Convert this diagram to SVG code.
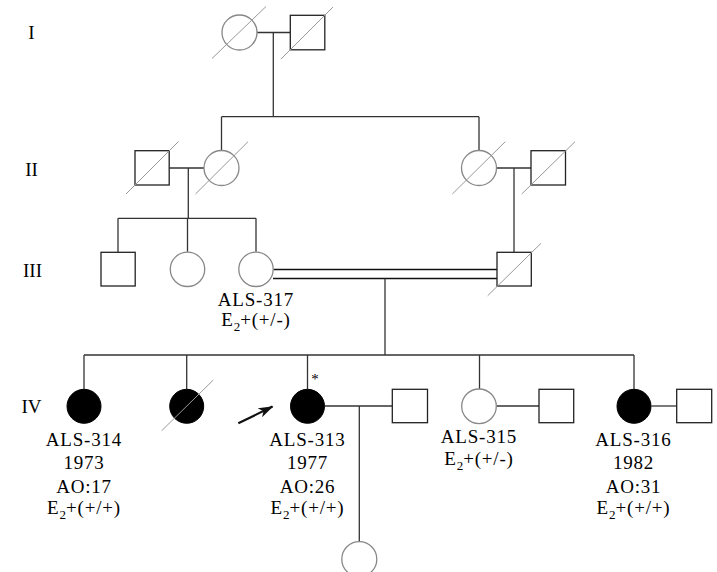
<svg xmlns="http://www.w3.org/2000/svg" width="717" height="572" viewBox="0 0 717 572">
<style>
.ln{stroke:#333;stroke-width:1.3;fill:none}
.dbl{stroke:#111;stroke-width:1.3;fill:none}
.sq{fill:#fff;stroke:#222;stroke-width:1.3}
.ci{fill:#fff;stroke:#888;stroke-width:1.3}
.aff{fill:#000;stroke:#000;stroke-width:1}
.dec{stroke:#999;stroke-width:1;fill:none}
text{font-family:"Liberation Serif","Times New Roman",serif;font-size:19px;fill:#000;text-anchor:middle;letter-spacing:0.8px}
.gen{letter-spacing:0}
.sub{font-size:13px;letter-spacing:0}
.star{font-size:15px;letter-spacing:0}
</style>
<defs>
<marker id="ah" markerWidth="15" markerHeight="10" refX="14" refY="5" orient="auto" markerUnits="userSpaceOnUse">
<path d="M0,0 L15,5 L0,10 L4,5 Z" fill="#111"/>
</marker>
</defs>

<g id="gen-labels">
<text class="gen" x="31.5" y="39">I</text>
<text class="gen" x="31.5" y="176">II</text>
<text class="gen" x="32.5" y="277">III</text>
<text class="gen" x="31.5" y="413">IV</text>
</g>

<g id="connectors">
<line class="ln" x1="257" y1="32.5" x2="290" y2="32.5"/>
<line class="ln" x1="273.3" y1="32.5" x2="273.3" y2="116.7"/>
<line class="ln" x1="221.5" y1="116.7" x2="479" y2="116.7"/>
<line class="ln" x1="221.5" y1="116.7" x2="221.5" y2="150.5"/>
<line class="ln" x1="479" y1="116.7" x2="479" y2="150.5"/>
<line class="ln" x1="169" y1="168" x2="204" y2="168"/>
<line class="ln" x1="188.3" y1="168" x2="188.3" y2="218.3"/>
<line class="ln" x1="118" y1="218.3" x2="256" y2="218.3"/>
<line class="ln" x1="118" y1="218.3" x2="118" y2="252.3"/>
<line class="ln" x1="187.5" y1="218.3" x2="187.5" y2="251.8"/>
<line class="ln" x1="256" y1="218.3" x2="256" y2="251.8"/>
<line class="ln" x1="496.5" y1="168" x2="531" y2="168"/>
<line class="ln" x1="514" y1="168" x2="514" y2="252.3"/>
<line class="dbl" x1="273.5" y1="269.5" x2="497" y2="269.5"/>
<line class="dbl" x1="273" y1="278.5" x2="497" y2="278.5"/>
<line class="ln" x1="385" y1="278.5" x2="385" y2="355"/>
<line class="ln" x1="84" y1="355" x2="634" y2="355"/>
<line class="ln" x1="84" y1="355" x2="84" y2="389"/>
<line class="ln" x1="186.7" y1="355" x2="186.7" y2="389"/>
<line class="ln" x1="307.5" y1="355" x2="307.5" y2="389"/>
<line class="ln" x1="479.5" y1="355" x2="479.5" y2="389"/>
<line class="ln" x1="634" y1="355" x2="634" y2="389"/>
<line class="ln" x1="325" y1="406" x2="392.3" y2="406"/>
<line class="ln" x1="359.3" y1="406" x2="359.3" y2="541.7"/>
<line class="ln" x1="496.5" y1="406" x2="539" y2="406"/>
<line class="ln" x1="651.5" y1="406" x2="676.7" y2="406"/>
<line x1="238.3" y1="423.3" x2="272.5" y2="406.6" stroke="#111" stroke-width="2.2" marker-end="url(#ah)"/>
</g>

<g id="I-1"><circle class="ci" cx="239.5" cy="32.5" r="17.5"/><line class="dec" x1="212" y1="58.5" x2="266" y2="6.5"/></g>
<g id="I-2"><rect class="sq" x="290.3" y="15.3" width="34.5" height="34.5"/><line class="dec" x1="281" y1="59" x2="333" y2="7"/></g>

<g id="II-1"><rect class="sq" x="135" y="150.7" width="34.2" height="34.3"/><line class="dec" x1="126" y1="194" x2="178.5" y2="141.5"/></g>
<g id="II-2"><circle class="ci" cx="221.5" cy="168" r="17.5"/><line class="dec" x1="195.5" y1="194" x2="248" y2="141.7"/></g>
<g id="II-3"><circle class="ci" cx="479" cy="168" r="17.5"/><line class="dec" x1="452.3" y1="194" x2="505.3" y2="141.7"/></g>
<g id="II-4"><rect class="sq" x="531" y="150.7" width="34.5" height="34.3"/><line class="dec" x1="521.7" y1="194" x2="575" y2="141.7"/></g>

<g id="III-1"><rect class="sq" x="101" y="252.3" width="34.2" height="33.7"/></g>
<g id="III-2"><circle class="ci" cx="187.5" cy="269.3" r="17.2"/></g>
<g id="III-3"><circle class="ci" cx="256" cy="269.3" r="17.2"/>
<text x="256" y="306">ALS-317</text>
<text x="256" y="326">E<tspan class="sub" dy="5">2</tspan><tspan dy="-5">+(+/-)</tspan></text>
</g>
<g id="III-4"><rect class="sq" x="497" y="252.3" width="34.3" height="33.7"/><line class="dec" x1="487.7" y1="295.7" x2="541" y2="243.3"/></g>

<g id="IV-1"><circle class="aff" cx="84" cy="406.3" r="17"/>
<text x="84" y="446">ALS-314</text>
<text x="84" y="469">1973</text>
<text x="84" y="492.5">AO:17</text>
<text x="84" y="514">E<tspan class="sub" dy="5">2</tspan><tspan dy="-5">+(+/+)</tspan></text>
</g>
<g id="IV-2"><circle class="aff" cx="186.7" cy="406.3" r="17"/><line class="dec" x1="161.7" y1="430.7" x2="213.3" y2="380"/></g>
<g id="IV-3"><circle class="aff" cx="307.5" cy="406.3" r="17"/>
<text class="star" x="315" y="384">*</text>
<text x="307.5" y="446">ALS-313</text>
<text x="307.5" y="469">1977</text>
<text x="307.5" y="492.5">AO:26</text>
<text x="307.5" y="514">E<tspan class="sub" dy="5">2</tspan><tspan dy="-5">+(+/+)</tspan></text>
</g>
<g id="IV-4"><rect class="sq" x="392.3" y="389.3" width="35.2" height="33.4"/></g>
<g id="IV-5"><circle class="ci" cx="479" cy="406.3" r="17.3"/>
<text x="479" y="443">ALS-315</text>
<text x="479" y="465">E<tspan class="sub" dy="5">2</tspan><tspan dy="-5">+(+/-)</tspan></text>
</g>
<g id="IV-6"><rect class="sq" x="539" y="389.3" width="34.7" height="33.4"/></g>
<g id="IV-7"><circle class="aff" cx="634" cy="406.3" r="17"/>
<text x="633.5" y="446">ALS-316</text>
<text x="633.5" y="469">1982</text>
<text x="633.5" y="492.5">AO:31</text>
<text x="633.5" y="514">E<tspan class="sub" dy="5">2</tspan><tspan dy="-5">+(+/+)</tspan></text>
</g>
<g id="IV-8"><rect class="sq" x="676.7" y="389.3" width="35" height="33.4"/></g>

<g id="V-1"><circle class="ci" cx="359.3" cy="559.2" r="17.5"/></g>
</svg>
